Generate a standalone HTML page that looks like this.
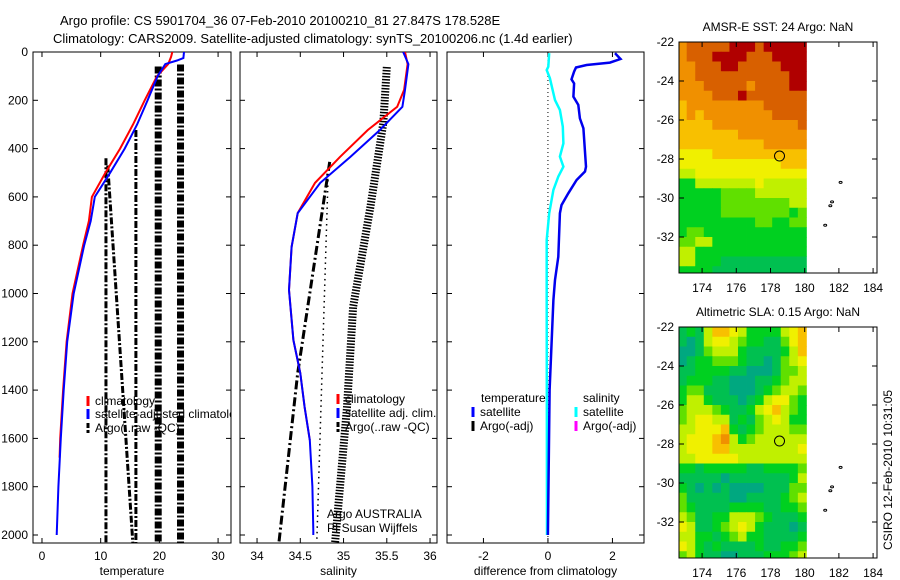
<!DOCTYPE html>
<html><head><meta charset="utf-8"><style>
html,body{margin:0;padding:0;background:#fff;}
svg{display:block;font-family:"Liberation Sans",sans-serif;}
</style></head><body>
<svg id="fig" width="900" height="580" viewBox="0 0 900 580" xmlns="http://www.w3.org/2000/svg">
<defs>
<clipPath id="c1"><rect x="33" y="52" width="198" height="491"/></clipPath>
<clipPath id="c2"><rect x="240" y="52" width="197" height="491"/></clipPath>
<clipPath id="c3"><rect x="447" y="52" width="197" height="491"/></clipPath>
<clipPath id="cm1"><rect x="679" y="42" width="198" height="231"/></clipPath>
<clipPath id="cm2"><rect x="679" y="327" width="198" height="231"/></clipPath>
</defs>
<text x="60" y="25" font-size="13">Argo profile: CS 5901704_36 07-Feb-2010 20100210_81 27.847S 178.528E</text>
<text x="53" y="43" font-size="13">Climatology: CARS2009. Satellite-adjusted climatology: synTS_20100206.nc (1.4d earlier)</text>
<text x="778" y="31" font-size="12" text-anchor="middle">AMSR-E SST: 24 Argo: NaN</text>
<text x="778" y="316" font-size="12" text-anchor="middle">Altimetric SLA: 0.15 Argo: NaN</text>
<text transform="translate(892,470) rotate(-90)" font-size="12" text-anchor="middle">CSIRO 12-Feb-2010 10:31:05</text>
<g id="layer"></g>
</svg>
<script>
// ---- data ----
const yTicks = [0,200,400,600,800,1000,1200,1400,1600,1800,2000];
const tTicks = [0,10,20,30];
const sTicks = [34,34.5,35,35.5,36];
const sTickLabels = ["34","34.5","35","35.5","36"];
const dTicks = [-2,0,2];

const tClimDepth = [0,20,50,100,200,300,400,500,600,700,800,1000,1200,1400,1600,1680];
const tClimVal   = [22.2,22.0,21.5,19.6,17.5,15.5,13.3,10.8,8.5,8.0,7.0,5.2,4.2,3.6,3.1,3.0];
const tSatDepth  = [0,25,35,50,100,200,300,400,500,600,700,800,1000,1200,1400,1600,1800,2000];
const tSatVal    = [24.2,24.1,23.0,21.0,19.7,18.0,16.2,14.1,11.6,9.0,8.3,7.2,5.4,4.3,3.7,3.2,2.8,2.5];
// Argo temperature segments
const tArgoT0 = [10.9,11.2,16.0,19.8,23.6];
const tArgoD0 = [440,470,323,60,52];
const tArgoT1 = [10.9,15.5,16.0,19.8,23.6];
const tArgoD1 = [2040,2040,2040,2040,2040];
const tArgoWidth = [3,3,3,7,7];

const sClimDepth = [0,50,157,227,323,434,542,667,807,985,1193,1330,1470,1607];
const sClimVal   = [35.71,35.74,35.70,35.62,35.28,34.96,34.67,34.47,34.40,34.37,34.42,34.50,34.55,34.61];
const sSatDepth  = [0,50,157,227,323,434,542,667,807,985,1193,1330,1470,1607,1800,1980,2000];
const sSatVal    = [35.69,35.75,35.71,35.68,35.42,35.08,34.73,34.47,34.40,34.37,34.42,34.50,34.55,34.61,34.64,34.65,34.65];
const sBandDepth = [62,294,642,1056,1470,2040];
const sBandVal   = [35.5,35.46,35.31,35.11,35.04,34.9];
const sDashDepth = [455,1329,2040];
const sDashVal   = [34.84,34.47,34.25];
const sDotDepth  = [530,2040];
const sDotVal    = [34.82,34.69];

const dTDepth = [5,29,44,54,64,81,113,130,185,219,275,316,475,495,530,585,634,668,848,944,1027,1400,2000];
const dTVal   = [2.08,2.25,1.92,1.2,0.87,0.81,0.73,0.81,0.79,0.94,0.99,1.1,1.18,1.15,0.89,0.63,0.42,0.37,0.32,0.22,0.17,0.05,0.0];
const dSDepth = [5,61,75,109,199,240,309,378,433,475,516,571,668,778,1027,2000];
const dSVal   = [0.04,0.01,-0.04,0.06,0.22,0.37,0.46,0.48,0.37,0.48,0.32,0.17,0.04,-0.04,-0.04,-0.03];

const latTicks = [-22,-24,-26,-28,-30,-32];
const lonTicks = [174,176,178,180,182,184];
const palette = ["#00a880","#00c050","#00d020","#60e000","#c0f000","#f0f000","#f8c000","#f09000","#d86000","#b00000"];
const sstRows = ["788888999899999","788899998889999","778889988888999","778888888888899","777888887888899","777788898888888","677777777788888","676777777778888","666677777777778","666666677777777","666666666677777","555566666666666","555555555555666","445555555555555","224444444544444","222223333444444","222223333333344","222223333333323","222222222332233","233222222222222","334422222222222","442222222222222","442221111111111","222211111111111"];
const slaRows = ["121466542222456","101455432211356","001344421111246","012233321101345","112222110001334","122211000112344","233111000123443","244211101245532","344432112456432","345544121345422","445556212344433","455567423444444","455566444444445","445555544444444","221222221122223","111110111111124","210101000011133","311111001111234","321111222211223","431122444321112","541123454211101","442212342211112","542121111211223","342110011122234"];
const mapLon0 = 172.6, mapLat0 = -22, cellDeg = 0.5, landLon = 180.1;
const floatLon = 178.528, floatLat = -27.847;

// ---- helpers ----
const NS="http://www.w3.org/2000/svg";
const layer=document.getElementById('layer');
function mk(tag,attrs,parent){const e=document.createElementNS(NS,tag);for(const k in attrs)e.setAttribute(k,attrs[k]);(parent||layer).appendChild(e);return e;}
const Y0=52, YS=0.2415;
function py(d){return Y0+d*YS;}
const panels=[
 {x0:33,x1:231,v0:-1.53,k:5.87},
 {x0:240,x1:437,v0:33.803,k:86.5},
 {x0:447,x1:644,v0:-3.13,k:32.25}];
function px(p,v){return panels[p].x0+(v-panels[p].v0)*panels[p].k;}
function pts(p,vals,deps){return vals.map((v,i)=>px(p,v).toFixed(1)+','+py(deps[i]).toFixed(1)).join(' ');}

const xtickSets=[tTicks,sTicks,dTicks];
const xlabSets=[tTicks.map(String),sTickLabels,dTicks.map(String)];
const xTitles=["temperature","salinity","difference from climatology"];
panels.forEach((p,i)=>{
 const g=mk('g',{});
 
 
 const fr=mk('rect',{x:p.x0,y:52,width:p.x1-p.x0,height:491,fill:'none',stroke:'#000','stroke-width':1},g);
 
 
 yTicks.forEach(d=>{
  mk('line',{x1:p.x0,x2:p.x0+5,y1:py(d),y2:py(d),stroke:'#000'},g);
  mk('line',{x1:p.x1,x2:p.x1-5,y1:py(d),y2:py(d),stroke:'#000'},g);
  if(i===0){const t=mk('text',{x:28,y:py(d)+4,'font-size':12,'text-anchor':'end'},g);t.textContent=String(d);
   
   }
 });
 xtickSets[i].forEach((v,j)=>{
  const x=px(i,v);
  mk('line',{x1:x,x2:x,y1:52,y2:57,stroke:'#000'},g);
  mk('line',{x1:x,x2:x,y1:543,y2:538,stroke:'#000'},g);
  const t=mk('text',{x:x,y:560,'font-size':12,'text-anchor':'middle'},g);t.textContent=xlabSets[i][j];
  
  
 });
 const tt=mk('text',{x:(p.x0+p.x1)/2,y:575,'font-size':12,'text-anchor':'middle'},g);tt.textContent=xTitles[i];
 
 
});

// panel 1
const g1=mk('g',{'clip-path':'url(#c1)'});


tArgoT0.forEach((t,i)=>{
 const l=mk('line',{x1:px(0,t),y1:py(tArgoD0[i]),x2:px(0,tArgoT1[i]),y2:py(tArgoD1[i]),stroke:'#000','stroke-width':tArgoWidth[i],'stroke-dasharray':'7,2,2,2'},g1);
 
 
});
let l=mk('polyline',{points:pts(0,tClimVal,tClimDepth),fill:'none',stroke:'#f00','stroke-width':2},g1);


l=mk('polyline',{points:pts(0,tSatVal,tSatDepth),fill:'none',stroke:'#00f','stroke-width':2},g1);



// panel 2
const g2=mk('g',{'clip-path':'url(#c2)'});


l=mk('polyline',{points:pts(1,sBandVal,sBandDepth),fill:'none',stroke:'#000','stroke-width':8,'stroke-dasharray':'1.5,1.5'},g2);


l=mk('polyline',{points:pts(1,sDashVal,sDashDepth),fill:'none',stroke:'#000','stroke-width':3,'stroke-dasharray':'9,3,2,3'},g2);


l=mk('polyline',{points:pts(1,sDotVal,sDotDepth),fill:'none',stroke:'#000','stroke-width':1.5,'stroke-dasharray':'1.5,4'},g2);


l=mk('polyline',{points:pts(1,sClimVal,sClimDepth),fill:'none',stroke:'#f00','stroke-width':2},g2);


l=mk('polyline',{points:pts(1,sSatVal,sSatDepth),fill:'none',stroke:'#00f','stroke-width':2},g2);



// panel 3
const g3=mk('g',{'clip-path':'url(#c3)'});


l=mk('line',{x1:px(2,0),x2:px(2,0),y1:52,y2:543,stroke:'#000','stroke-width':1,'stroke-dasharray':'1,3'},g3);


l=mk('polyline',{points:pts(2,dSVal,dSDepth),fill:'none',stroke:'#00ffff','stroke-width':2.5},g3);


l=mk('polyline',{points:pts(2,dTVal,dTDepth),fill:'none',stroke:'#0000ee','stroke-width':2.5},g3);



// legends
function legItem(parent,mx,ty,color,label,dash){
 const m=mk('line',{x1:mx,x2:mx,y1:ty-9,y2:ty+1,stroke:color,'stroke-width':3},parent);
 if(dash)m.setAttribute('stroke-dasharray','5,2');
 
 
 const t=mk('text',{x:mx+7,y:ty,'font-size':12},parent);t.textContent=label;
 
 
}
const lg1=mk('g',{'clip-path':'url(#c1)'});


legItem(lg1,88,405,'#f00','climatology');
legItem(lg1,88,418,'#00f','satellite-adjusted climatology');
legItem(lg1,88,432,'#000','Argo(..raw -QC)',true);
const lg2=mk('g',{'clip-path':'url(#c2)'});


legItem(lg2,338,403,'#f00','climatology');
legItem(lg2,338,417,'#00f','satellite adj. clim.');
legItem(lg2,338,431,'#000','Argo(..raw -QC)',true);
let t=mk('text',{x:327,y:518,'font-size':12},lg2);t.textContent='Argo AUSTRALIA';


t=mk('text',{x:327,y:532,'font-size':12},lg2);t.textContent='PI Susan Wijffels';


const lg3=mk('g',{});


t=mk('text',{x:481,y:402,'font-size':12},lg3);t.textContent='temperature';


t=mk('text',{x:583,y:402,'font-size':12},lg3);t.textContent='salinity';


legItem(lg3,473,416,'#00f','satellite');
legItem(lg3,473,430,'#000','Argo(-adj)');
legItem(lg3,576,416,'#00ffff','satellite');
legItem(lg3,576,430,'#ff00ff','Argo(-adj)');

// maps
const maps=[{top:42,rows:sstRows,clip:'cm1',name:'sst-map'},{top:327,rows:slaRows,clip:'cm2',name:'sla-map'}];
const MX0=679, LONK=17.1, LON0=172.65, LATK=19.5;
maps.forEach(m=>{
 const mx=lon=>MX0+(lon-LON0)*LONK;
 const my=lat=>m.top+(-22-lat)*LATK;
 const g=mk('g',{});
 
 
 const gc=mk('g',{'clip-path':'url(#'+m.clip+')'},g);
 m.rows.forEach((row,r)=>{
  for(let c=0;c<row.length;c++){
   const lon=mapLon0+c*cellDeg, lat=mapLat0-r*cellDeg;
   const x0=mx(lon), x1=mx(Math.min(lon+cellDeg,landLon));
   const cell=mk('rect',{x:x0.toFixed(2),y:my(lat).toFixed(2),width:(x1-x0+0.4).toFixed(2),height:(cellDeg*LATK+0.4).toFixed(2),fill:palette[+row[c]]},gc);
   
   
  }
 });
 [[182.1,-29.2],[181.5,-30.4],[181.6,-30.2],[181.2,-31.4]].forEach(q=>{
  const e=mk('ellipse',{cx:mx(q[0]),cy:my(q[1]),rx:1.5,ry:1,fill:'none',stroke:'#000','stroke-width':1},g);
  
  
 });
 const c=mk('circle',{cx:mx(floatLon),cy:my(floatLat),r:5,fill:'none',stroke:'#000','stroke-width':1},g);
 
 
 const fr=mk('rect',{x:679,y:m.top,width:198,height:231,fill:'none',stroke:'#000'},g);
 
 
 latTicks.forEach(lat=>{
  const y=my(lat);
  mk('line',{x1:679,x2:684,y1:y,y2:y,stroke:'#000'},g);
  mk('line',{x1:877,x2:872,y1:y,y2:y,stroke:'#000'},g);
  const tl=mk('text',{x:674,y:y+4,'font-size':12,'text-anchor':'end'},g);tl.textContent=String(lat);
  
  
 });
 lonTicks.forEach(lon=>{
  const x=mx(lon);
  mk('line',{x1:x,x2:x,y1:m.top,y2:m.top+5,stroke:'#000'},g);
  mk('line',{x1:x,x2:x,y1:m.top+231,y2:m.top+226,stroke:'#000'},g);
  const tl=mk('text',{x:x,y:m.top+250,'font-size':12,'text-anchor':'middle'},g);tl.textContent=String(lon);
  
  
 });
});
</script>
</body></html>
